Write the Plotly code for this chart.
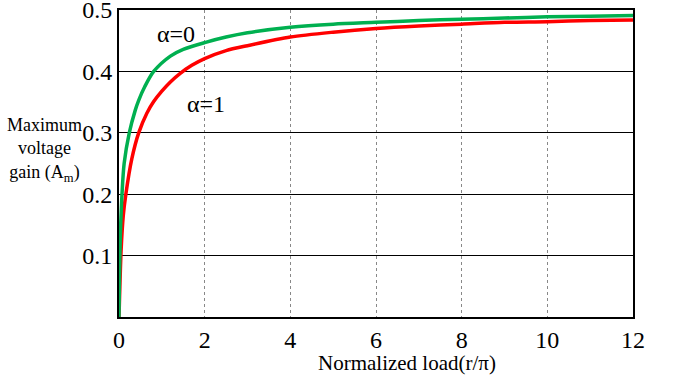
import plotly.graph_objects as go

# Data
green_x = [0, 0.01, 0.03, 0.07, 0.12, 0.24, 0.38, 0.46, 0.6, 0.81, 1.2, 1.5, 2, 2.5, 3, 4, 5, 6, 7, 8, 9, 10, 11, 12]
green_y = [0, 0.06, 0.13, 0.2, 0.25, 0.3, 0.337, 0.353, 0.375, 0.4, 0.425, 0.436, 0.447, 0.456, 0.463, 0.472, 0.477, 0.480, 0.483, 0.485, 0.487, 0.489, 0.490, 0.491]

red_x = [0, 0.02, 0.05, 0.1, 0.16, 0.3, 0.46, 0.65, 0.81, 1.0, 1.2, 1.43, 1.7, 2, 2.5, 3, 4, 5, 6, 7, 8, 9, 10, 11, 12]
red_y = [0, 0.05, 0.11, 0.165, 0.2, 0.258, 0.3, 0.332, 0.351, 0.368, 0.383, 0.397, 0.41, 0.421, 0.434, 0.442, 0.456, 0.464, 0.470, 0.474, 0.477, 0.480, 0.481, 0.483, 0.484]

x_ticks = [0, 2, 4, 6, 8, 10, 12]
y_ticks = [0.1, 0.2, 0.3, 0.4, 0.5]
y_tick_labels = ["0.1", "0.2", "0.3", "0.4", "0.5"]

FONT = "Liberation Serif"

fig = go.Figure()
fig.add_trace(go.Scatter(x=red_x, y=red_y, mode="lines", line=dict(color="#FF0000", width=3.5, shape="spline", smoothing=0.8), showlegend=False))
fig.add_trace(go.Scatter(x=green_x, y=green_y, mode="lines", line=dict(color="#00B050", width=3.5, shape="spline", smoothing=0.8), showlegend=False))

fig.update_layout(
    width=677, height=383,
    margin=dict(l=119, r=44, t=10, b=66, autoexpand=False),
    paper_bgcolor="white", plot_bgcolor="white",
    font=dict(family=FONT, color="black", size=24),
    xaxis=dict(range=[0, 12], tickvals=x_ticks, ticktext=[str(v) for v in x_ticks],
               showgrid=True, gridcolor="#888888", gridwidth=1, griddash="dot",
               showline=True, linecolor="black", linewidth=2, mirror=True,
               ticks="", zeroline=False, automargin=False, tickfont=dict(family=FONT, size=24)),
    yaxis=dict(range=[0, 0.5001], tickvals=y_ticks, ticktext=y_tick_labels,
               showgrid=True, gridcolor="black", gridwidth=1,
               showline=True, linecolor="black", linewidth=2, mirror=True,
               ticks="", zeroline=False, automargin=False, ticklabeloverflow="allow",
               tickfont=dict(family=FONT, size=24)),
)

fig.add_annotation(text="Normalized load(r/π)", xref="paper", yref="paper", x=0.56, y=-0.15,
                   showarrow=False, xanchor="center", yanchor="middle", font=dict(family=FONT, size=21))
fig.add_annotation(text="Maximum<br>voltage<br>gain (A<sub>m</sub>)", xref="paper", yref="paper",
                   x=-0.144, y=0.544, showarrow=False, xanchor="center", yanchor="middle",
                   align="center", font=dict(family=FONT, size=18))
fig.add_annotation(text="α=0", x=1.33, y=0.461, xref="x", yref="y", showarrow=False, font=dict(family=FONT, size=24))
fig.add_annotation(text="α=1", x=2.03, y=0.347, xref="x", yref="y", showarrow=False, font=dict(family=FONT, size=24))

fig.write_html("out.html", config={"displayModeBar": False},
               post_script="document.body.style.margin='0';")
